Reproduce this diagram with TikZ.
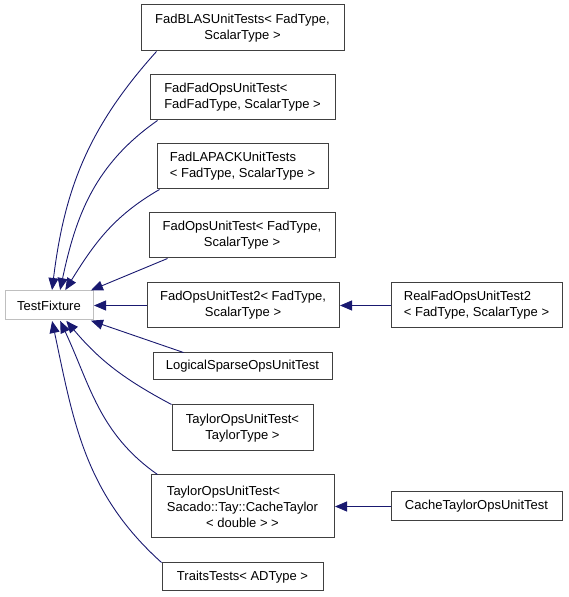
\documentclass[tikz,border=0pt]{standalone}
\usepackage{fontspec}
\setmainfont{Liberation Sans}
\usetikzlibrary{arrows.meta}
\definecolor{edgeblue}{HTML}{191970}
\definecolor{boxgray}{HTML}{404040}
\definecolor{basegray}{HTML}{BFBFBF}
\begin{document}
\begin{tikzpicture}[x=1pt, y=1pt, font=\fontsize{13pt}{16pt}\selectfont,
	cls/.style={draw=boxgray, line width=1pt, inner sep=0pt, align=center},
	base/.style={draw=basegray, line width=1pt, inner sep=0pt},
	inh/.style={draw=edgeblue, line width=0.9pt, -{Triangle[length=12pt, width=10pt]}, shorten >=0.5pt}]
	\useasboundingbox (0,0) rectangle (568,597);
	% base class
	\node[base, minimum width=88pt, minimum height=29pt] (tf) at (49,291.5) {TestFixture};
	% derived classes
	\node[cls, minimum width=203pt, minimum height=46pt] (fblas) at (242.5,569) {FadBLASUnitTests< FadType,\\ScalarType >};
	\node[cls, align=left, minimum width=185pt, minimum height=45pt] (ffad) at (242.5,499.5) {FadFadOpsUnitTest<\\FadFadType, ScalarType >};
	\node[cls, align=left, minimum width=171pt, minimum height=45pt] (flapack) at (242.5,430.5) {FadLAPACKUnitTests\\< FadType, ScalarType >};
	\node[cls, minimum width=186pt, minimum height=45pt] (fops) at (242,361.5) {FadOpsUnitTest< FadType,\\ScalarType >};
	\node[cls, minimum width=192pt, minimum height=45pt] (fops2) at (243,291.5) {FadOpsUnitTest2< FadType,\\ScalarType >};
	\node[cls, minimum width=179pt, minimum height=27pt] (lsparse) at (242.5,230.5) {LogicalSparseOpsUnitTest};
	\node[cls, minimum width=141pt, minimum height=46pt] (taylor) at (242.5,169) {TaylorOpsUnitTest<\\TaylorType >};
	\node[cls, minimum width=183pt, minimum height=63pt] (tcache) at (242.5,90.5) {\rlap{TaylorOpsUnitTest<}\phantom{Sacado::Tay::CacheTaylor}\\Sacado::Tay::CacheTaylor\\< double > >};
	\node[cls, minimum width=161pt, minimum height=28pt] (traits) at (242.5,20) {TraitsTests< ADType >};
	\node[cls, align=left, minimum width=171pt, minimum height=45pt] (realfad) at (476.5,291.5) {RealFadOpsUnitTest2\\< FadType, ScalarType >};
	\node[cls, minimum width=171pt, minimum height=29pt] (ctaylor) at (476.5,90.5) {CacheTaylorOpsUnitTest};
	% inheritance
	\draw[inh] ([xshift=16pt]fblas.south west) to[out=228, in=83] ([xshift=3pt]tf.north);
	\draw[inh] ([xshift=8pt]ffad.south west) to[out=215, in=78] ([xshift=11pt]tf.north);
	\draw[inh] ([xshift=3pt]flapack.south west) to[out=210, in=58] ([xshift=16pt]tf.north);
	\draw[inh] ([xshift=19pt]fops.south west) -- ([xshift=-3pt]tf.north east);
	\draw[inh] (fops2) -- (tf);
	\draw[inh] ([xshift=31pt]lsparse.north west) -- ([xshift=-3pt]tf.south east);
	\draw[inh] (taylor.north west) to[out=152, in=-50] ([xshift=17pt]tf.south);
	\draw[inh] ([xshift=7pt]tcache.north west) to[out=145, in=-65] ([xshift=11pt]tf.south);
	\draw[inh] (traits.north west) to[out=138, in=-78] ([xshift=3pt]tf.south);
	\draw[inh] (realfad) -- (fops2);
	\draw[inh] (ctaylor) -- (tcache);
\end{tikzpicture}
\end{document}
